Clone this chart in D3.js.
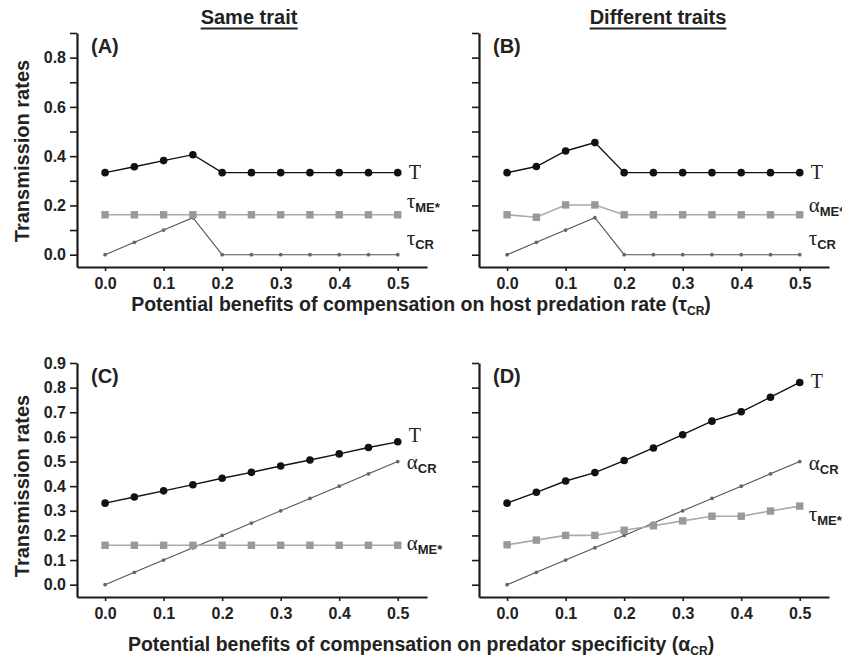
<!DOCTYPE html>
<html>
<head>
<meta charset="utf-8">
<script src="https://cdn.jsdelivr.net/npm/d3@7"></script>
<style>
  body { margin: 0; background: #fff; }
  svg { display: block; }
  .tick text { font-family: "Liberation Sans", Arial, sans-serif; font-weight: bold; fill: #222; }
</style>
</head>
<body>
<div id="chart"></div>
<script>
// benefit levels on the x axis
const benefit = [0, 0.05, 0.1, 0.15, 0.2, 0.25, 0.3, 0.35, 0.4, 0.45, 0.5];
const xTicks = [0, 0.1, 0.2, 0.3, 0.4, 0.5];
const yTicks = [0, 0.1, 0.2, 0.3, 0.4, 0.5, 0.6, 0.7, 0.8, 0.9];

// (A) same trait, host predation rate
const aT      = [0.333, 0.357, 0.382, 0.406, 0.333, 0.333, 0.333, 0.333, 0.333, 0.333, 0.333];
const aTauME  = [0.162, 0.162, 0.162, 0.162, 0.162, 0.162, 0.162, 0.162, 0.162, 0.162, 0.162];
const aTauCR  = [0, 0.05, 0.1, 0.15, 0, 0, 0, 0, 0, 0, 0];
// (B) different traits, host predation rate
const bT      = [0.333, 0.358, 0.421, 0.455, 0.333, 0.333, 0.333, 0.333, 0.333, 0.333, 0.333];
const bAlphaME= [0.162, 0.152, 0.202, 0.202, 0.162, 0.162, 0.162, 0.162, 0.162, 0.162, 0.162];
const bTauCR  = [0, 0.05, 0.1, 0.15, 0, 0, 0, 0, 0, 0, 0];
// (C) same trait, predator specificity
const cT      = [0.331, 0.356, 0.381, 0.406, 0.432, 0.456, 0.482, 0.506, 0.531, 0.557, 0.580];
const cAlphaCR= [0, 0.05, 0.1, 0.15, 0.2, 0.25, 0.3, 0.35, 0.4, 0.45, 0.5];
const cAlphaME= [0.16, 0.16, 0.16, 0.16, 0.16, 0.16, 0.16, 0.16, 0.16, 0.16, 0.16];
// (D) different traits, predator specificity
const dT      = [0.331, 0.375, 0.421, 0.455, 0.504, 0.555, 0.609, 0.664, 0.702, 0.761, 0.821];
const dAlphaCR= [0, 0.05, 0.1, 0.15, 0.2, 0.25, 0.3, 0.35, 0.4, 0.45, 0.5];
const dTauME  = [0.162, 0.181, 0.2, 0.2, 0.221, 0.239, 0.259, 0.278, 0.278, 0.299, 0.319];

const W = 842, H = 659;
const pw = 350, ph = 234;
const sans = '"Liberation Sans", Arial, sans-serif';
const serif = '"Liberation Serif", "Times New Roman", serif';

// series look: T = black dots, ME = grey squares, CR = small dots
const style = {
  T:  {line: '#111', fill: '#111', width: 1.4, shape: 'circle', r: 3.8},
  ME: {line: '#aaa', fill: '#999', width: 1.6, shape: 'square', r: 3.7},
  CR: {line: '#555', fill: '#666', width: 1.1, shape: 'circle', r: 1.9}
};

const panels = [
  {id: '(A)', left: 77, top: 33, yLabels: [0, 0.2, 0.4, 0.6, 0.8],
   series: [
     {kind: 'CR', values: aTauCR, greek: 'τ', sub: 'CR', ly: 0.04},
     {kind: 'ME', values: aTauME, greek: 'τ', sub: 'ME*', ly: 0.19},
     {kind: 'T',  values: aT, greek: 'T', sub: '', ly: 0.306}]},
  {id: '(B)', left: 479, top: 33, yLabels: [],
   series: [
     {kind: 'CR', values: bTauCR, greek: 'τ', sub: 'CR', ly: 0.04},
     {kind: 'ME', values: bAlphaME, greek: 'α', sub: 'ME*', ly: 0.172},
     {kind: 'T',  values: bT, greek: 'T', sub: '', ly: 0.306}]},
  {id: '(C)', left: 77, top: 363, yLabels: yTicks,
   series: [
     {kind: 'CR', values: cAlphaCR, greek: 'α', sub: 'CR', ly: 0.47},
     {kind: 'ME', values: cAlphaME, greek: 'α', sub: 'ME*', ly: 0.14},
     {kind: 'T',  values: cT, greek: 'T', sub: '', ly: 0.58}]},
  {id: '(D)', left: 479, top: 363, yLabels: [],
   series: [
     {kind: 'CR', values: dAlphaCR, greek: 'α', sub: 'CR', ly: 0.464},
     {kind: 'ME', values: dTauME, greek: 'τ', sub: 'ME*', ly: 0.26},
     {kind: 'T',  values: dT, greek: 'T', sub: '', ly: 0.80}]}
];

const svg = d3.select('#chart').append('svg')
  .attr('width', W).attr('height', H);

const x = d3.scaleLinear().domain([-0.048, 0.55]).range([0, pw]);
const y = d3.scaleLinear().domain([-0.05, 0.9]).range([ph, 0]);
const fmt = d3.format('.1f');

panels.forEach(p => {
  const g = svg.append('g').attr('transform', `translate(${p.left},${p.top})`);

  const yAxis = d3.axisLeft(y).tickValues(yTicks).tickSize(7).tickSizeOuter(0)
    .tickFormat(d => p.yLabels.some(v => Math.abs(v - d) < 1e-9) ? fmt(d) : '');
  const gy = g.append('g').call(yAxis);
  const xAxis = d3.axisBottom(x).tickValues(xTicks).tickSize(4).tickSizeOuter(0).tickFormat(fmt);
  const gx = g.append('g').attr('transform', `translate(0,${ph})`).call(xAxis);

  [gy, gx].forEach(a => {
    a.select('.domain').attr('stroke', '#1a1a1a').attr('stroke-width', 2.2);
    a.selectAll('.tick line').attr('stroke', '#1a1a1a').attr('stroke-width', 1.6);
    a.selectAll('.tick text').style('font-size', '16px');
  });
  gy.selectAll('.tick text').attr('x', -11);
  gx.selectAll('.tick text').attr('y', 11);

  g.append('text').attr('x', 14).attr('y', 20)
    .style('font-family', sans).style('font-weight', 'bold').style('font-size', '20px')
    .attr('fill', '#222').text(p.id);

  p.series.forEach(s => {
    const st = style[s.kind];
    const pts = benefit.map((b, i) => [b, s.values[i]]);
    g.append('path').datum(pts)
      .attr('fill', 'none').attr('stroke', st.line).attr('stroke-width', st.width)
      .attr('d', d3.line().x(d => x(d[0])).y(d => y(d[1])));
    if (st.shape === 'circle') {
      g.selectAll(null).data(pts).enter().append('circle')
        .attr('cx', d => x(d[0])).attr('cy', d => y(d[1])).attr('r', st.r).attr('fill', st.fill);
    } else {
      g.selectAll(null).data(pts).enter().append('rect')
        .attr('x', d => x(d[0]) - st.r).attr('y', d => y(d[1]) - st.r)
        .attr('width', st.r * 2).attr('height', st.r * 2).attr('fill', st.fill);
    }
    const t = g.append('text').attr('x', x(0.5) + (s.kind === 'T' ? 11 : 9)).attr('y', y(s.ly))
      .attr('fill', '#222');
    t.append('tspan').style('font-family', serif).style('font-size', s.kind === 'T' ? '20px' : '21px').text(s.greek);
    if (s.sub) {
      t.append('tspan').attr('dy', 4).style('font-family', sans).style('font-weight', 'bold')
        .style('font-size', '13px').text(s.sub);
    }
  });
});

// column titles
[{t: 'Same trait', cx: 249}, {t: 'Different traits', cx: 658}].forEach(c => {
  const tx = svg.append('text').attr('x', c.cx).attr('y', 24).attr('text-anchor', 'middle')
    .style('font-family', sans).style('font-weight', 'bold').style('font-size', '20px')
    .attr('fill', '#222').text(c.t);
  const bb = tx.node().getBBox();
  svg.append('line').attr('x1', bb.x).attr('x2', bb.x + bb.width)
    .attr('y1', 28.5).attr('y2', 28.5).attr('stroke', '#222').attr('stroke-width', 2);
});

// x-axis titles
function xTitle(cy, words, greek) {
  const t = svg.append('text').attr('x', 421).attr('y', cy).attr('text-anchor', 'middle')
    .style('font-family', sans).style('font-weight', 'bold').style('font-size', '19.5px')
    .attr('fill', '#222');
  t.append('tspan').text(words + ' (' + greek);
  t.append('tspan').attr('dy', 4).style('font-size', '12px').text('CR');
  t.append('tspan').attr('dy', -4).text(')');
}
xTitle(311, 'Potential benefits of compensation on host predation rate', 'τ');
xTitle(651, 'Potential benefits of compensation on predator specificity', 'α');

// y-axis titles
[151, 486].forEach(cy => {
  svg.append('text').attr('transform', `translate(29,${cy}) rotate(-90)`)
    .attr('text-anchor', 'middle')
    .style('font-family', sans).style('font-weight', 'bold').style('font-size', '20px')
    .attr('fill', '#222').text('Transmission rates');
});
</script>
</body>
</html>
